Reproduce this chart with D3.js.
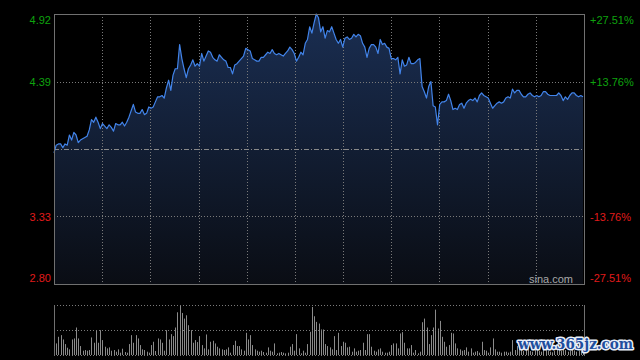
<!DOCTYPE html>
<html><head><meta charset="utf-8">
<script src="https://cdn.jsdelivr.net/npm/d3@7"></script>
<style>html,body{margin:0;padding:0;background:#000;}svg{display:block;}</style>
</head><body>
<svg id="c" width="640" height="360"></svg>
<script>
// ---- data ----
const prevClose = 3.86;
const priceTicks = [4.92, 4.39, 3.33, 2.80];
const priceTickLabels = ["4.92", "4.39", "3.33", "2.80"];
const pctTickLabels = ["+27.51%", "+13.76%", "-13.76%", "-27.51%"];
const minutesInDay = 240;
const prices = [
 3.83,3.89,3.90,3.90,3.87,3.90,3.89,3.97,3.93,3.99,
 3.97,3.91,3.93,3.94,3.95,3.96,4.01,4.09,4.07,4.11,
 4.07,4.02,4.06,4.04,4.02,4.05,4.03,4.00,4.06,4.05,
 4.05,4.07,4.04,4.07,4.11,4.16,4.21,4.15,4.14,4.14,
 4.17,4.13,4.14,4.19,4.18,4.19,4.23,4.27,4.27,4.28,
 4.26,4.34,4.40,4.32,4.44,4.49,4.49,4.68,4.57,4.49,
 4.42,4.49,4.52,4.56,4.51,4.53,4.51,4.61,4.55,4.59,
 4.63,4.62,4.58,4.56,4.55,4.60,4.58,4.56,4.55,4.50,
 4.50,4.45,4.52,4.53,4.55,4.57,4.59,4.65,4.64,4.63,
 4.57,4.56,4.55,4.55,4.58,4.58,4.60,4.62,4.61,4.64,
 4.61,4.60,4.61,4.60,4.59,4.61,4.63,4.66,4.64,4.61,
 4.55,4.58,4.62,4.60,4.69,4.72,4.82,4.77,4.85,4.92,
 4.89,4.78,4.82,4.73,4.79,4.78,4.82,4.77,4.72,4.69,
 4.72,4.66,4.73,4.74,4.72,4.73,4.76,4.74,4.76,4.75,
 4.69,4.66,4.58,4.65,4.68,4.68,4.66,4.61,4.72,4.68,
 4.69,4.66,4.65,4.57,4.57,4.56,4.58,4.45,4.56,4.51,
 4.52,4.58,4.53,4.53,4.54,4.56,4.57,4.35,4.31,4.26,
 4.35,4.39,4.20,4.19,4.05,4.21,4.23,4.23,4.24,4.29,
 4.24,4.17,4.18,4.17,4.21,4.22,4.18,4.22,4.24,4.25,
 4.24,4.26,4.23,4.28,4.30,4.28,4.27,4.26,4.22,4.18,
 4.20,4.22,4.23,4.22,4.23,4.26,4.27,4.26,4.33,4.30,
 4.32,4.32,4.29,4.27,4.27,4.29,4.30,4.28,4.27,4.28,
 4.27,4.28,4.31,4.31,4.29,4.28,4.28,4.28,4.28,4.30,
 4.28,4.24,4.27,4.25,4.28,4.30,4.30,4.28,4.27,4.28,
 4.27
];
const volumes = [
 40,35,55,60,47,33,22,17,47,50,
 83,50,27,13,15,13,15,53,37,73,
 37,75,45,25,20,23,13,15,10,17,
 7,19,9,7,33,60,37,60,50,30,
 17,15,10,7,30,40,12,50,47,37,
 13,75,47,63,57,83,129,151,127,110,
 120,90,75,37,45,39,57,30,20,62,
 17,40,43,35,25,20,17,15,17,23,
 7,30,43,27,27,17,13,67,47,60,
 30,17,13,10,13,9,7,23,13,10,
 35,5,7,9,7,5,7,25,33,13,
 63,20,5,13,7,33,70,145,117,100,
 95,77,77,33,27,23,17,57,15,67,
 27,40,37,23,25,10,20,10,13,15,
 37,15,63,63,25,13,10,17,20,10,
 7,7,10,30,35,35,20,65,69,37,
 20,20,30,7,15,5,10,99,110,83,
 33,60,83,137,80,103,55,40,25,30,
 67,65,35,20,17,13,15,23,10,20,
 7,10,12,7,40,15,13,7,23,50,
 17,10,10,7,10,10,7,10,45,15,
 27,20,15,12,18,22,12,10,15,20,
 12,10,25,18,12,10,8,12,15,18,
 12,20,15,10,12,18,14,10,12,15,
 17
];

// ---- layout ----
const W = 640, H = 360;
const L = 54, R = 584, T = 14, B = 284;
const VT = 305, VB = 355;
const svg = d3.select("#c");
svg.append("rect").attr("width", W).attr("height", H).attr("fill", "#000");

const x = d3.scaleLinear().domain([0, minutesInDay]).range([L, 583]);
const y = d3.scaleLinear().domain([2.80, 4.92]).range([B, T]);
const yv = d3.scaleLinear().domain([0, d3.max(volumes)]).range([VB, VT]);

const defs = svg.append("defs");
const grad = defs.append("linearGradient").attr("id", "ag")
  .attr("gradientUnits", "userSpaceOnUse").attr("x1", 0).attr("y1", T).attr("x2", 0).attr("y2", B);
grad.append("stop").attr("offset", "0%").attr("stop-color", "#1a2e52");
grad.append("stop").attr("offset", "100%").attr("stop-color", "#0a0d14");

// area
svg.append("path").datum(prices)
  .attr("d", d3.area().x((d, i) => x(i)).y0(B).y1(d => y(d)))
  .attr("fill", "url(#ag)");

// grid
const g = svg.append("g").attr("stroke", "#7a7a7a").attr("stroke-width", 1).attr("stroke-dasharray", "1,2");
d3.range(1, 11).forEach(k => {
  const xx = Math.round(L + k * (R - L) / 11) + 0.5;
  g.append("line").attr("x1", xx).attr("x2", xx).attr("y1", T).attr("y2", B);
});
[4.39, 3.33].forEach(v => {
  const yy = Math.round(y(v)) + 0.5;
  g.append("line").attr("x1", L).attr("x2", R).attr("y1", yy).attr("y2", yy);
});
const my = Math.round(y(prevClose)) + 0.5;
svg.append("line").attr("x1", L).attr("x2", R).attr("y1", my).attr("y2", my)
  .attr("stroke", "#8a8a8a").attr("stroke-dasharray", "5,2,1,2");

// price line
svg.append("path").datum(prices)
  .attr("d", d3.line().x((d, i) => x(i)).y(d => y(d)))
  .attr("fill", "none").attr("stroke", "#4284ea").attr("stroke-width", 1.2)
  .attr("stroke-linejoin", "round");

// frame
svg.append("rect").attr("x", L + 0.5).attr("y", T + 0.5).attr("width", R - L).attr("height", B - T)
  .attr("fill", "none").attr("stroke", "#707070");

// axes
const colorFor = v => v >= prevClose ? "#0ea30e" : "#e01b1b";
const left = svg.append("g").attr("transform", `translate(${L},0)`)
  .call(d3.axisLeft(y).tickValues(priceTicks).tickSize(0).tickPadding(3)
    .tickFormat((d, i) => priceTickLabels[i]));
const right = svg.append("g").attr("transform", `translate(${R},0)`)
  .call(d3.axisRight(y).tickValues(priceTicks).tickSize(0).tickPadding(6)
    .tickFormat((d, i) => pctTickLabels[i]));
[left, right].forEach(ax => {
  ax.select(".domain").remove();
  ax.selectAll("text")
    .attr("font-family", "Arial, 'Liberation Sans', sans-serif")
    .attr("font-size", 11)
    .attr("fill", d => colorFor(d))
    .attr("y", d => d === 4.92 ? 6 : (d === 2.80 ? -6 : 0));
});

// sina watermark
svg.append("text").attr("x", 573).attr("y", 283).attr("text-anchor", "end")
  .attr("font-family", "Arial, 'Liberation Sans', sans-serif").attr("font-size", 11)
  .attr("fill", "#a8a8a8").text("sina.com");

// volume panel
const vg = svg.append("g");
vg.selectAll("rect.v").data(volumes).enter().append("rect")
  .attr("x", (d, i) => Math.round(x(i)))
  .attr("y", d => yv(d))
  .attr("width", 1)
  .attr("height", d => VB - yv(d))
  .attr("fill", "#8a8a8a");
const vgrid = svg.append("g").attr("stroke", "#7a7a7a").attr("stroke-dasharray", "1,2");
[VT, (VT + VB) / 2, VB].forEach(yy => {
  const p = Math.round(yy) + 0.5;
  vgrid.append("line").attr("x1", L).attr("x2", R).attr("y1", p).attr("y2", p);
});
[L, R].forEach(xx => {
  svg.append("line").attr("x1", xx + 0.5).attr("x2", xx + 0.5).attr("y1", VT).attr("y2", VB + 1)
    .attr("stroke", "#707070");
});

// site watermark
svg.append("text").attr("x", 633).attr("y", 349).attr("text-anchor", "end")
  .attr("font-family", "'DejaVu Serif Condensed', 'DejaVu Serif', serif").attr("font-weight", "bold")
  .attr("font-size", 15)
  .attr("fill", "#1f4e9e").attr("stroke", "#e8eef8").attr("stroke-width", 3)
  .attr("paint-order", "stroke").attr("stroke-linejoin", "round")
  .text("www.365jz.com");
</script>
</body></html>
